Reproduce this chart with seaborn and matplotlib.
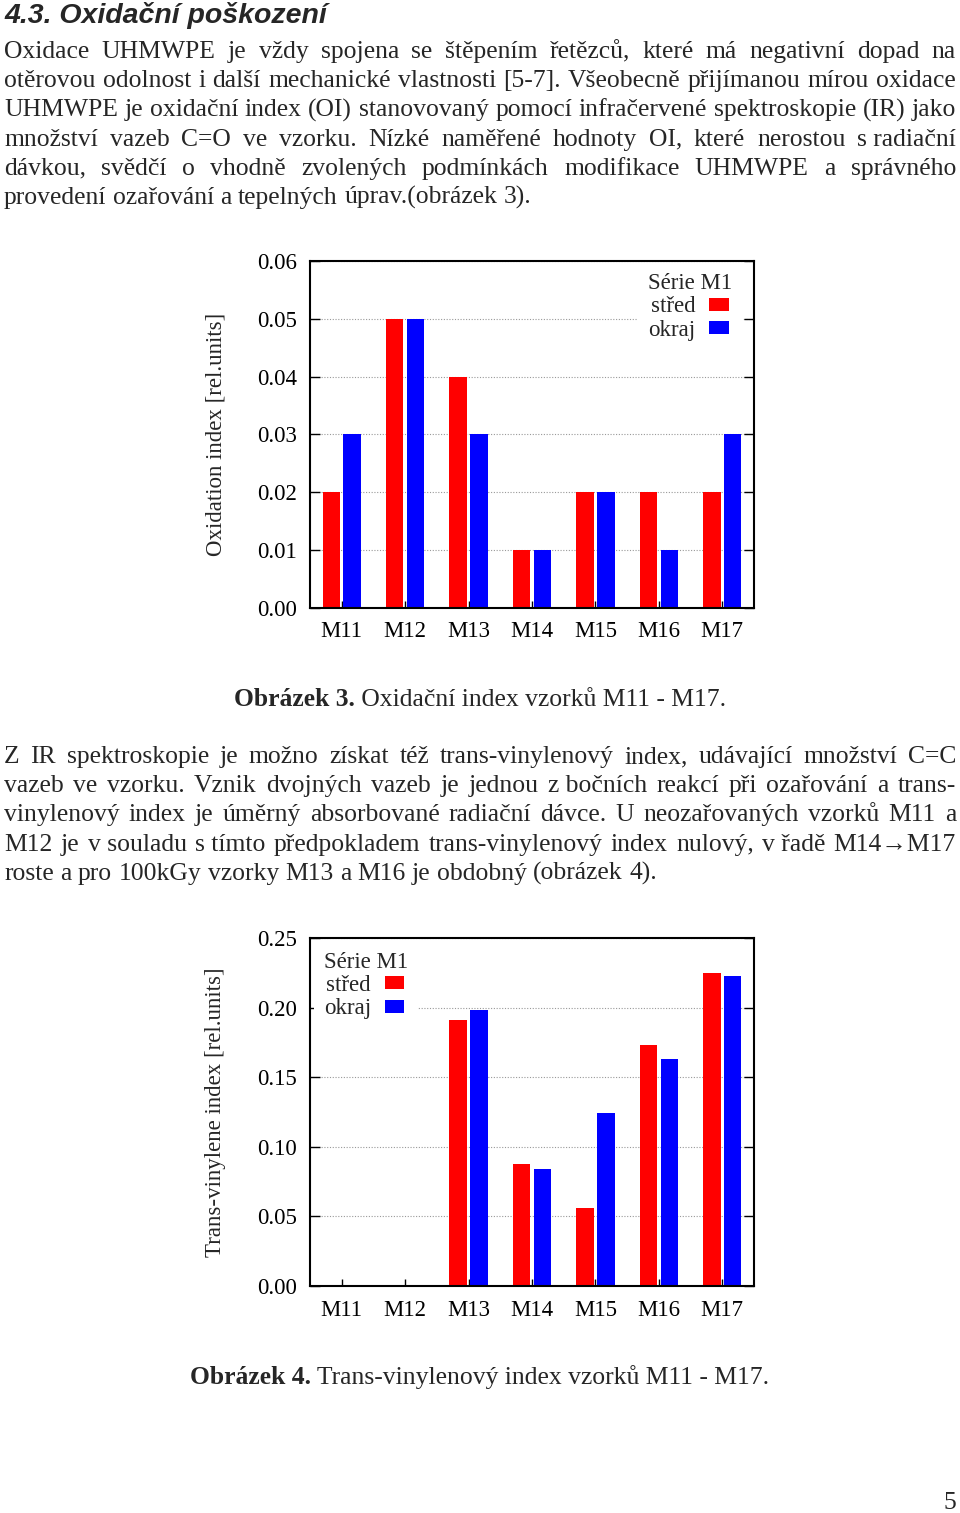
import matplotlib
matplotlib.use("Agg")
import matplotlib.pyplot as plt
from matplotlib.patches import Patch
from matplotlib.ticker import FormatStrFormatter
import seaborn as sns
import pandas as pd

# ---------------- data ----------------
samples = ["M11", "M12", "M13", "M14", "M15", "M16", "M17"]
series_names = ["střed", "okraj"]
oi_stred = [0.02, 0.05, 0.04, 0.01, 0.02, 0.02, 0.02]
oi_okraj = [0.03, 0.05, 0.03, 0.01, 0.02, 0.01, 0.03]
tv_stred = [0.0, 0.001, 0.191, 0.088, 0.056, 0.173, 0.225]
tv_okraj = [0.0, 0.001, 0.198, 0.084, 0.124, 0.163, 0.223]
legend_title = "Série M1"
ylabel1 = "Oxidation index [rel.units]"
ylabel2 = "Trans-vinylene index [rel.units]"
yticks1 = [0.00, 0.01, 0.02, 0.03, 0.04, 0.05, 0.06]
yticks2 = [0.00, 0.05, 0.10, 0.15, 0.20, 0.25]

heading = "4.3. Oxidační poškození"
para1 = [
    "Oxidace UHMWPE je vždy spojena se štěpením řetězců, které má negativní dopad na",
    "otěrovou odolnost i další mechanické vlastnosti [5-7]. Všeobecně přijímanou mírou oxidace",
    "UHMWPE je oxidační index (OI) stanovovaný pomocí infračervené spektroskopie (IR) jako",
    "množství vazeb C=O ve vzorku. Nízké naměřené hodnoty OI, které nerostou s\u00a0radiační",
    "dávkou, svědčí o vhodně zvolených podmínkách modifikace UHMWPE a správného",
    "provedení ozařování a tepelných úprav.(obrázek 3).",
]
para2 = [
    "Z IR spektroskopie je možno získat též trans-vinylenový index, udávající množství C=C",
    "vazeb ve vzorku. Vznik dvojných vazeb je jednou z\u00a0bočních reakcí při ozařování a trans-",
    "vinylenový index je úměrný absorbované radiační dávce. U neozařovaných vzorků M11 a",
    "M12 je v\u00a0souladu s\u00a0tímto předpokladem trans-vinylenový index nulový, v\u00a0řadě M14→M17",
    "roste a pro 100kGy vzorky M13 a M16 je obdobný (obrázek 4).",
]
caption3 = ("Obrázek 3.", " Oxidační index vzorků M11 - M17.")
caption4 = ("Obrázek 4.", " Trans-vinylenový index vzorků M11 - M17.")
page_number = "5"

# ---------------- setup ----------------
sns.set_style("ticks")
SERIF = ["Liberation Serif", "DejaVu Serif"]
plt.rcParams["font.family"] = SERIF

W, H = 960, 1513
fig = plt.figure(figsize=(W / 100, H / 100), dpi=100)
fig.patch.set_facecolor("white")
renderer = fig.canvas.get_renderer()

palette = {"střed": "#ff0000", "okraj": "#0000ff"}
CH_FS = 16.5


def fy(y):
    return 1 - y / H


def draw_chart(rect, stred, okraj, ylabel, yticks, ymax, legend_loc, legend_anchor, legend_align):
    ax = fig.add_axes(rect)
    df = pd.DataFrame({
        "sample": samples * 2,
        "pozice": [series_names[0]] * len(samples) + [series_names[1]] * len(samples),
        "value": list(stred) + list(okraj),
    })
    sns.barplot(data=df, x="sample", y="value", hue="pozice", hue_order=series_names,
                palette=palette, width=0.66, gap=0.17, saturation=1, legend=False,
                errorbar=None, linewidth=0, ax=ax)
    ax.set_xlim(-0.5, len(samples) - 0.5)
    ax.set_ylim(0, ymax)
    ax.set_yticks(yticks)
    ax.yaxis.set_major_formatter(FormatStrFormatter("%.2f"))
    ax.set_axisbelow(True)
    ax.yaxis.grid(True, linestyle=(0, (1, 1.5)), color="#999999", linewidth=0.8)
    ax.xaxis.grid(False)
    for s in ax.spines.values():
        s.set_visible(True)
        s.set_linewidth(1.5)
        s.set_color("black")
        s.set_zorder(6)
    ax.tick_params(axis="y", direction="in", length=7, width=1, left=True, right=True,
                   labelsize=CH_FS, pad=9.5, colors="black")
    ax.tick_params(axis="x", direction="in", length=5, width=1, bottom=True, top=False,
                   labelsize=CH_FS, pad=10, colors="black")
    ax.set_xlabel("")
    ax.set_ylabel(ylabel, fontsize=CH_FS, va="center")
    ax.yaxis.set_label_coords(-0.212, 0.5)
    handles = [Patch(facecolor=palette[n], edgecolor="none", label=n) for n in series_names]
    leg = ax.legend(handles=handles, title=legend_title, loc=legend_loc,
                    bbox_to_anchor=legend_anchor, markerfirst=False, fontsize=CH_FS,
                    title_fontsize=CH_FS, handlelength=0.85, handleheight=0.5,
                    handletextpad=0.6, labelspacing=0.1, borderpad=0.45,
                    borderaxespad=0.0, frameon=True, fancybox=False,
                    alignment=legend_align)
    leg._legend_title_box.set_height(0)
    leg.get_frame().set_facecolor("white")
    leg.get_frame().set_edgecolor("none")
    leg.get_frame().set_alpha(1)
    leg.set_zorder(5)
    return ax


ax1 = draw_chart([310 / W, fy(607.5), 444 / W, 346.5 / H], oi_stred, oi_okraj, ylabel1,
                 yticks1, 0.06, "upper right", (0.975, 0.995), "left")
ax2 = draw_chart([310 / W, fy(1286), 444 / W, 348 / H], tv_stred, tv_okraj, ylabel2,
                 yticks2, 0.25, "upper left", (0.008, 0.99), "left")

# ---------------- text ----------------
X0, X1 = 4, 956


def word_width(t, size, **kw):
    a = fig.text(0, 0, t, fontsize=size, family=SERIF, **kw)
    w = a.get_window_extent(renderer).width
    a.remove()
    return w


def line_natural(line, size):
    words = line.split(" ")
    ws = [word_width(w, size) for w in words]
    sp = word_width("a a", size) - word_width("aa", size)
    return sum(ws) + sp * (len(words) - 1)


BODY_FS = 17.0
justified = para1[:-1] + para2[:-1]
ratio = max(line_natural(l, BODY_FS) for l in justified) / (X1 - X0)
BODY_FS = min(BODY_FS / ratio * 0.995, 19.5)


def put_line(line, ybase, justify):
    words = line.split(" ")
    arts = [fig.text(0, fy(ybase), w, fontsize=BODY_FS, family=SERIF, va="baseline", ha="left")
            for w in words]
    ws = [a.get_window_extent(renderer).width for a in arts]
    if justify and len(words) > 1:
        gap = (X1 - X0 - sum(ws)) / (len(words) - 1)
    else:
        gap = word_width("a a", BODY_FS) - word_width("aa", BODY_FS)
    x = X0
    for a, w in zip(arts, ws):
        a.set_x(x / W)
        x += w + gap


fig.text(X0 / W, fy(23), heading, fontsize=20.5, family=["Liberation Sans", "DejaVu Sans"],
         weight="bold", style="italic", va="baseline", ha="left")

for i, line in enumerate(para1):
    put_line(line, 58 + i * 29.2, i < len(para1) - 1)
for i, line in enumerate(para2):
    put_line(line, 763 + i * 29.2, i < len(para2) - 1)


def caption(parts, ybase):
    a = fig.text(0, fy(ybase), parts[0], fontsize=BODY_FS, family=SERIF, weight="bold",
                 va="baseline", ha="left")
    b = fig.text(0, fy(ybase), parts[1], fontsize=BODY_FS, family=SERIF,
                 va="baseline", ha="left")
    wa = a.get_window_extent(renderer).width
    wb = b.get_window_extent(renderer).width
    start = 480 - (wa + wb) / 2
    a.set_x(start / W)
    b.set_x((start + wa) / W)


caption(caption3, 706)
caption(caption4, 1384)
fig.text(956 / W, fy(1509), page_number, fontsize=BODY_FS, family=SERIF, va="baseline", ha="right")

fig.savefig("out.png", dpi=100)
